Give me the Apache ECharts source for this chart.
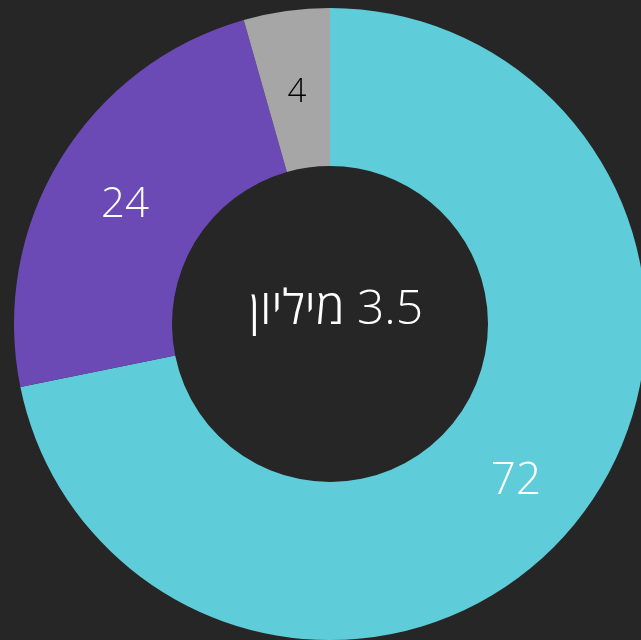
<!DOCTYPE html>
<html><head><meta charset="utf-8">
<script src="https://cdn.jsdelivr.net/npm/echarts@6/dist/echarts.min.js"></script>
<style>html,body{margin:0;padding:0;background:#262626;}#c{width:641px;height:640px;}</style>
</head><body><div id="c"></div>
<script>
const categories = ['A', 'B', 'C'];
const values = [71.8, 23.8, 4.4];
const colors = ['#5ecdd9', '#6c4ab6', '#a6a6a6'];
const labelColors = ['#ffffff', '#ffffff', '#000000'];
const labelSizes = [44, 42, 33];
const centerText = '\u200F3.5 מיליון';

const FONT = '"Open Sans", "Noto Sans", sans-serif';
const chart = echarts.init(document.getElementById('c'));
chart.setOption({
  backgroundColor: '#262626',
  animation: false,
  graphic: [{
    type: 'text', x: 336, y: 310, z: 10,
    style: { text: centerText, fill: '#ffffff', fontSize: 48, fontWeight: 300, fontFamily: FONT, align: 'center', verticalAlign: 'middle' }
  }],
  series: [{
    type: 'pie',
    center: [330, 324],
    radius: [158, 316],
    startAngle: 90,
    clockwise: true,
    data: values.map((v, i) => ({
      name: categories[i], value: v,
      itemStyle: { color: colors[i] },
      label: { color: labelColors[i], fontSize: labelSizes[i] }
    })),
    label: {
      show: true, position: 'inside',
      formatter: p => String(Math.round(p.value)),
      fontWeight: 300, fontFamily: FONT,
      offset: [0, 6]
    },
    labelLine: { show: false },
    itemStyle: { borderWidth: 0 },
    emphasis: { disabled: true }
  }]
});
</script></body></html>
